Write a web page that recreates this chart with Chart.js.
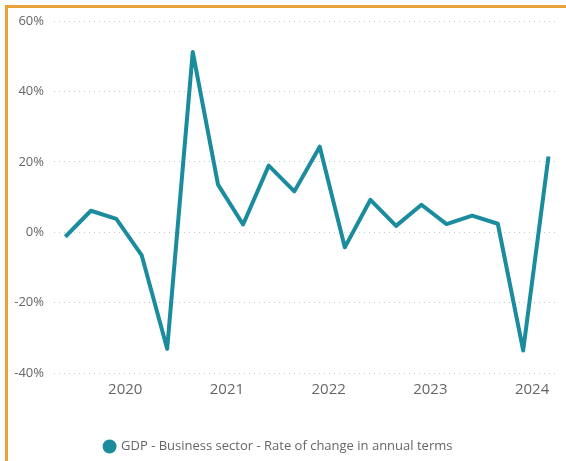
<!DOCTYPE html>
<html>
<head>
<meta charset="utf-8">
<script src="https://cdn.jsdelivr.net/npm/chart.js@4/dist/chart.umd.min.js"></script>
<style>
  html, body { margin: 0; padding: 0; background: #fff; overflow: hidden; }
  #frame {
    position: absolute; left: 5px; top: 5px; width: 700px; height: 600px;
    border-left: 3px solid #E9A23B; border-top: 3px solid #E9A23B;
    box-sizing: border-box;
  }
  #wrap { position: absolute; left: 0; top: 0; width: 566px; height: 467px; }
</style>
</head>
<body>
<div id="frame"></div>
<div id="wrap"><canvas id="myChart"></canvas></div>
<script>
// quarterly observations (dated at the end of the quarter's middle month)
const dates = [
  '2019-05-31', '2019-08-31', '2019-11-30', '2020-02-29',
  '2020-05-31', '2020-08-31', '2020-11-30', '2021-02-28',
  '2021-05-31', '2021-08-31', '2021-11-30', '2022-02-28',
  '2022-05-31', '2022-08-31', '2022-11-30', '2023-02-28',
  '2023-05-31', '2023-08-31', '2023-11-30', '2024-02-29'
];
const gdpChange = [
  -1.3, 6.1, 3.8, -6.5,
  -33.1, 51.2, 13.5, 2.2,
  18.9, 11.6, 24.3, -4.3,
  9.2, 1.8, 7.8, 2.3,
  4.7, 2.4, -33.6, 21.5
];
const yearTicks = [2020, 2021, 2022, 2023, 2024];
const seriesLabel = 'GDP - Business sector - Rate of change in annual terms';

function toYear(str) {
  const d = new Date(str + 'T00:00:00Z');
  const y = d.getUTCFullYear();
  const start = Date.UTC(y, 0, 1);
  const end = Date.UTC(y + 1, 0, 1);
  return y + (d.getTime() - start) / (end - start);
}

const points = dates.map((d, i) => ({ x: toYear(d), y: gdpChange[i] }));

const teal = '#1A8C9E';
const grey = '#666666';
const font = 'Open Sans';

const ctx = document.getElementById('myChart').getContext('2d');
const chart = new Chart(ctx, {
  type: 'line',
  data: {
    datasets: [{
      label: seriesLabel,
      data: points,
      borderColor: teal,
      backgroundColor: teal,
      borderWidth: 4,
      borderJoinStyle: 'round',
      pointRadius: 0,
      tension: 0
    }]
  },
  options: {
    responsive: true,
    maintainAspectRatio: false,
    animation: false,
    layout: { padding: { top: 21, right: 9, bottom: 4, left: 0 } },
    plugins: {
      tooltip: { enabled: false },
      legend: {
        position: 'bottom',
        labels: {
          usePointStyle: true,
          pointStyle: 'circle',
          pointStyleWidth: 10,
          boxHeight: 7,
          padding: 14,
          color: grey,
          font: { family: font, size: 13 }
        }
      }
    },
    scales: {
      x: {
        type: 'linear',
        min: 2019.3,
        max: 2024.245,
        afterBuildTicks: scale => {
          scale.ticks = yearTicks.map(v => ({ value: v }));
        },
        afterFit: scale => { scale.height = 53; },
        grid: { display: false },
        border: { display: false },
        ticks: {
          color: grey,
          padding: 0,
          maxRotation: 0,
          font: { family: font, size: 15 },
          callback: v => String(v)
        }
      },
      y: {
        min: -40,
        max: 60,
        afterFit: scale => { scale.width = 54; },
        border: { display: false, dash: [1, 4] },
        grid: { color: '#C8C8C8', lineWidth: 1, drawTicks: false },
        ticks: {
          stepSize: 20,
          color: grey,
          padding: 10,
          font: { family: font, size: 13 },
          callback: v => v + '%'
        }
      }
    }
  }
});
</script>
</body>
</html>
